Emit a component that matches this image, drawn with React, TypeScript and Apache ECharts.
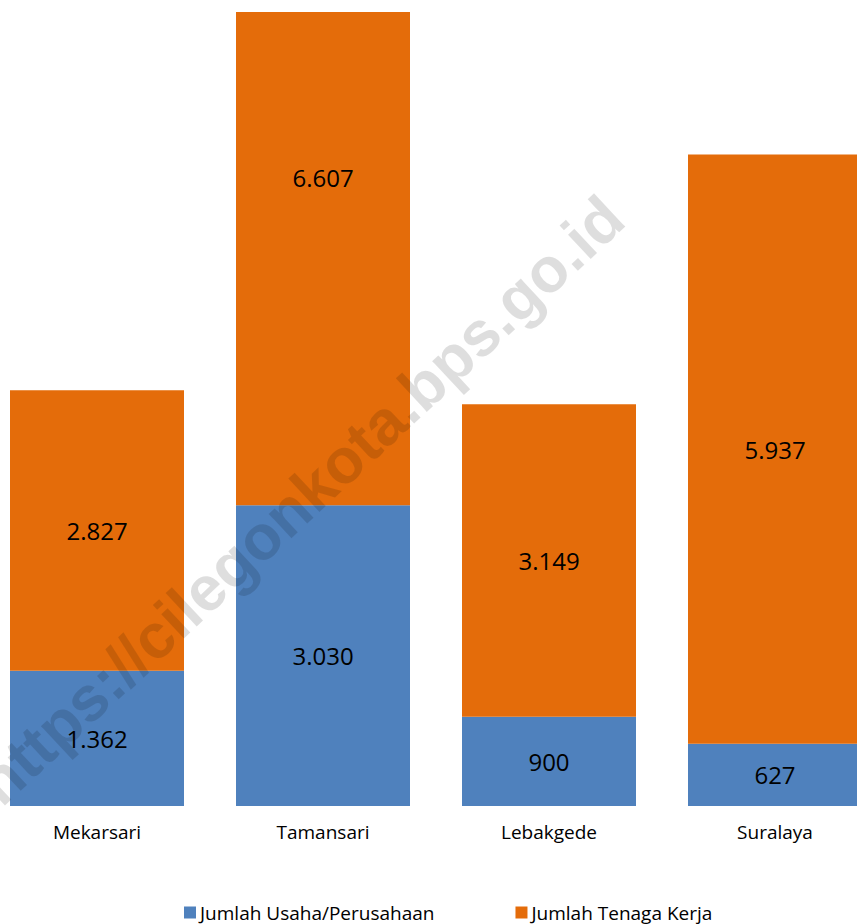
import React, { useEffect, useRef } from "react";
import * as echarts from "echarts";

const categories = ["Mekarsari", "Tamansari", "Lebakgede", "Suralaya"];
const usahaValues = [1362, 3030, 900, 627];
const tenagaValues = [2827, 6607, 3149, 5937];
const seriesNames = ["Jumlah Usaha/Perusahaan", "Jumlah Tenaga Kerja"];
const watermarkText = "https://cilegonkota.bps.go.id";

const Y_MAX = 8000;
const GRID_TOP = 12;
const GRID_HEIGHT = 794;
const FONT = "'Open Sans', 'Noto Sans', sans-serif";

const fmt = (v: number) => {
  const s = String(Math.round(v));
  return s.replace(/\B(?=(\d{3})+(?!\d))/g, ".");
};

// label offset so that labels of bars clipped at the axis max stay at the true centre
function buildData(values: number[], base: number[]) {
  return values.map((v, i) => {
    const lo = base[i];
    const hi = lo + v;
    const visHi = Math.min(hi, Y_MAX);
    const trueC = (lo + hi) / 2;
    const visC = (lo + visHi) / 2;
    const off = -(trueC - visC) * (GRID_HEIGHT / Y_MAX);
    return off !== 0 ? { value: v, label: { offset: [0, off] } } : { value: v };
  });
}

const SHIFT = 16;

export default function App() {
  const ref = useRef<HTMLDivElement>(null);
  useEffect(() => {
    if (!ref.current) return;
    const chart = echarts.init(ref.current, undefined, { renderer: "svg" });
    const zeros = categories.map(() => 0);
    const option: any = {
      animation: false,
      backgroundColor: "#ffffff",
      textStyle: { fontFamily: FONT },
      grid: { left: 0, right: 0, top: GRID_TOP, height: GRID_HEIGHT, containLabel: false },
      xAxis: {
        type: "category",
        data: categories,
        axisLine: { show: false },
        axisTick: { show: false },
        axisLabel: { color: "#000", fontSize: 19, fontFamily: FONT, margin: 16 },
      },
      yAxis: {
        type: "value",
        min: 0,
        max: Y_MAX,
        show: false,
        splitLine: { show: false },
      },
      legend: {
        bottom: 2,
        left: 184 + SHIFT,
        padding: 0,
        itemWidth: 12,
        itemHeight: 12,
        itemGap: 81,
        icon: "rect",
        textStyle: { color: "#000", fontSize: 19, fontFamily: FONT, padding: [0, 0, 0, -1] },
        data: seriesNames,
      },
      series: [
        {
          name: seriesNames[0],
          type: "bar",
          stack: "total",
          barWidth: 174,
          itemStyle: { color: "#4F81BD" },
          label: {
            show: true,
            position: "inside",
            color: "#000",
            fontSize: 24,
            fontFamily: FONT,
            formatter: (p: any) => fmt(p.value),
          },
          data: buildData(usahaValues, zeros),
        },
        {
          name: seriesNames[1],
          type: "bar",
          stack: "total",
          barWidth: 174,
          itemStyle: { color: "#E46C0A" },
          label: {
            show: true,
            position: "inside",
            color: "#000",
            fontSize: 24,
            fontFamily: FONT,
            formatter: (p: any) => fmt(p.value),
          },
          data: buildData(tenagaValues, usahaValues),
        },
      ],
      graphic: [
        {
          type: "text",
          x: 300 + SHIFT,
          y: 500,
          rotation: (43 * Math.PI) / 180,
          z: 100,
          silent: true,
          style: {
            text: watermarkText,
            fontSize: 63,
            fontWeight: "bold",
            fontFamily: "'Liberation Sans', Arial, sans-serif",
            fill: "rgba(0,0,0,0.13)",
            align: "center",
            verticalAlign: "middle",
          },
        },
      ],
    };
    chart.setOption(option);
    return () => chart.dispose();
  }, []);
  return (
    <div
      style={{
        position: "absolute",
        left: 0,
        top: 0,
        width: 857,
        height: 924,
        overflow: "hidden",
        background: "#fff",
      }}
    >
      <div
        ref={ref}
        style={{ position: "absolute", left: -SHIFT, top: 0, width: 904, height: 924 }}
      />
    </div>
  );
}
